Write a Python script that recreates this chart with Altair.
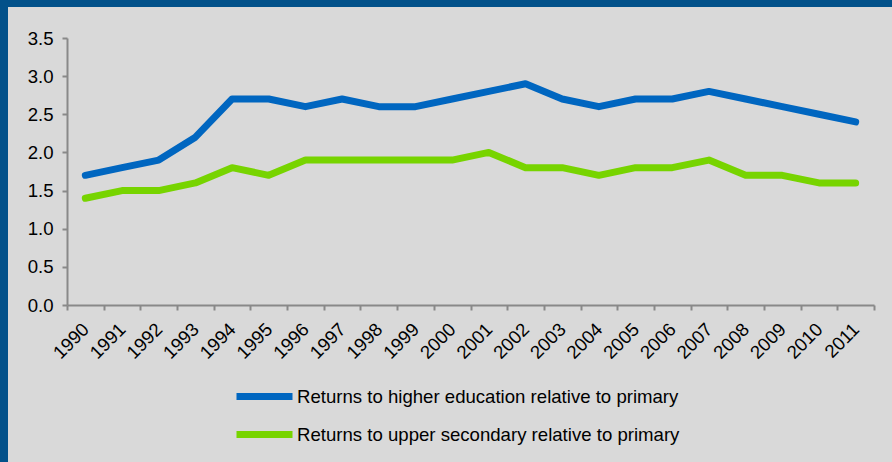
import altair as alt
import pandas as pd

years = [str(y) for y in range(1990, 2012)]
higher = [1.7, 1.8, 1.9, 2.2, 2.7, 2.7, 2.6, 2.7, 2.6, 2.6, 2.7, 2.8, 2.9, 2.7, 2.6, 2.7, 2.7, 2.8, 2.7, 2.6, 2.5, 2.4]
upper = [1.4, 1.5, 1.5, 1.6, 1.8, 1.7, 1.9, 1.9, 1.9, 1.9, 1.9, 2.0, 1.8, 1.8, 1.7, 1.8, 1.8, 1.9, 1.7, 1.7, 1.6, 1.6]
series = ["Returns to higher education relative to primary",
          "Returns to upper secondary relative to primary"]
colors = ["#0066C0", "#77D400"]

df = pd.DataFrame(
    [{"year": y, "value": v, "series": series[0]} for y, v in zip(years, higher)]
    + [{"year": y, "value": v, "series": series[1]} for y, v in zip(years, upper)]
)

FONT = "Liberation Sans"
FS = 18.6

bg = alt.Chart(pd.DataFrame({"a": [0]})).mark_rect(color="#D9D9D9", clip=False).encode(
    x=alt.value(-59), x2=alt.value(830), y=alt.value(-31), y2=alt.value(160 + 267)
)

lines = alt.Chart(df).mark_line(strokeWidth=7, strokeCap="round", strokeJoin="round").encode(
    x=alt.X("year:O", sort=years, bandPosition=0.5,
            scale=alt.Scale(type="band", paddingInner=0, paddingOuter=0),
            axis=alt.Axis(title=None, labelAngle=-45, labelAlign="right", labelBaseline="middle",
                          tickBand="extent", labelPadding=16, tickSize=5, zindex=1,
                          domainColor="#898989", tickColor="#898989", domainWidth=2, tickWidth=2,
                          labelFont=FONT, labelFontSize=FS, labelColor="#000000", grid=False)),
    y=alt.Y("value:Q", scale=alt.Scale(domain=[0, 3.5]),
            axis=alt.Axis(title=None, values=[0, 0.5, 1, 1.5, 2, 2.5, 3, 3.5], format=".1f",
                          tickSize=5, labelPadding=9, domainColor="#898989", tickColor="#898989",
                          domainWidth=2, tickWidth=2, zindex=1,
                          labelFont=FONT, labelFontSize=FS, labelColor="#000000", grid=False)),
    color=alt.Color("series:N", sort=series,
                    scale=alt.Scale(domain=series, range=colors),
                    legend=alt.Legend(title=None, orient="none", legendX=180, legendY=341,
                                      symbolType="M-2,0H2", symbolSize=784, symbolStrokeWidth=7,
                                      labelFont=FONT, labelFontSize=FS, labelColor="#000000",
                                      labelOffset=15, rowPadding=6, labelLimit=1000)),
)

chart = alt.layer(bg, lines).properties(
    width=807, height=267,
    background="#02518A",
    padding={"left": 67, "top": 38, "right": 18, "bottom": 157},
    autosize=alt.AutoSizeParams(type="none"),
).configure_view(stroke=None)

chart.save("out.html", embed_options={"renderer": "svg", "actions": False})
